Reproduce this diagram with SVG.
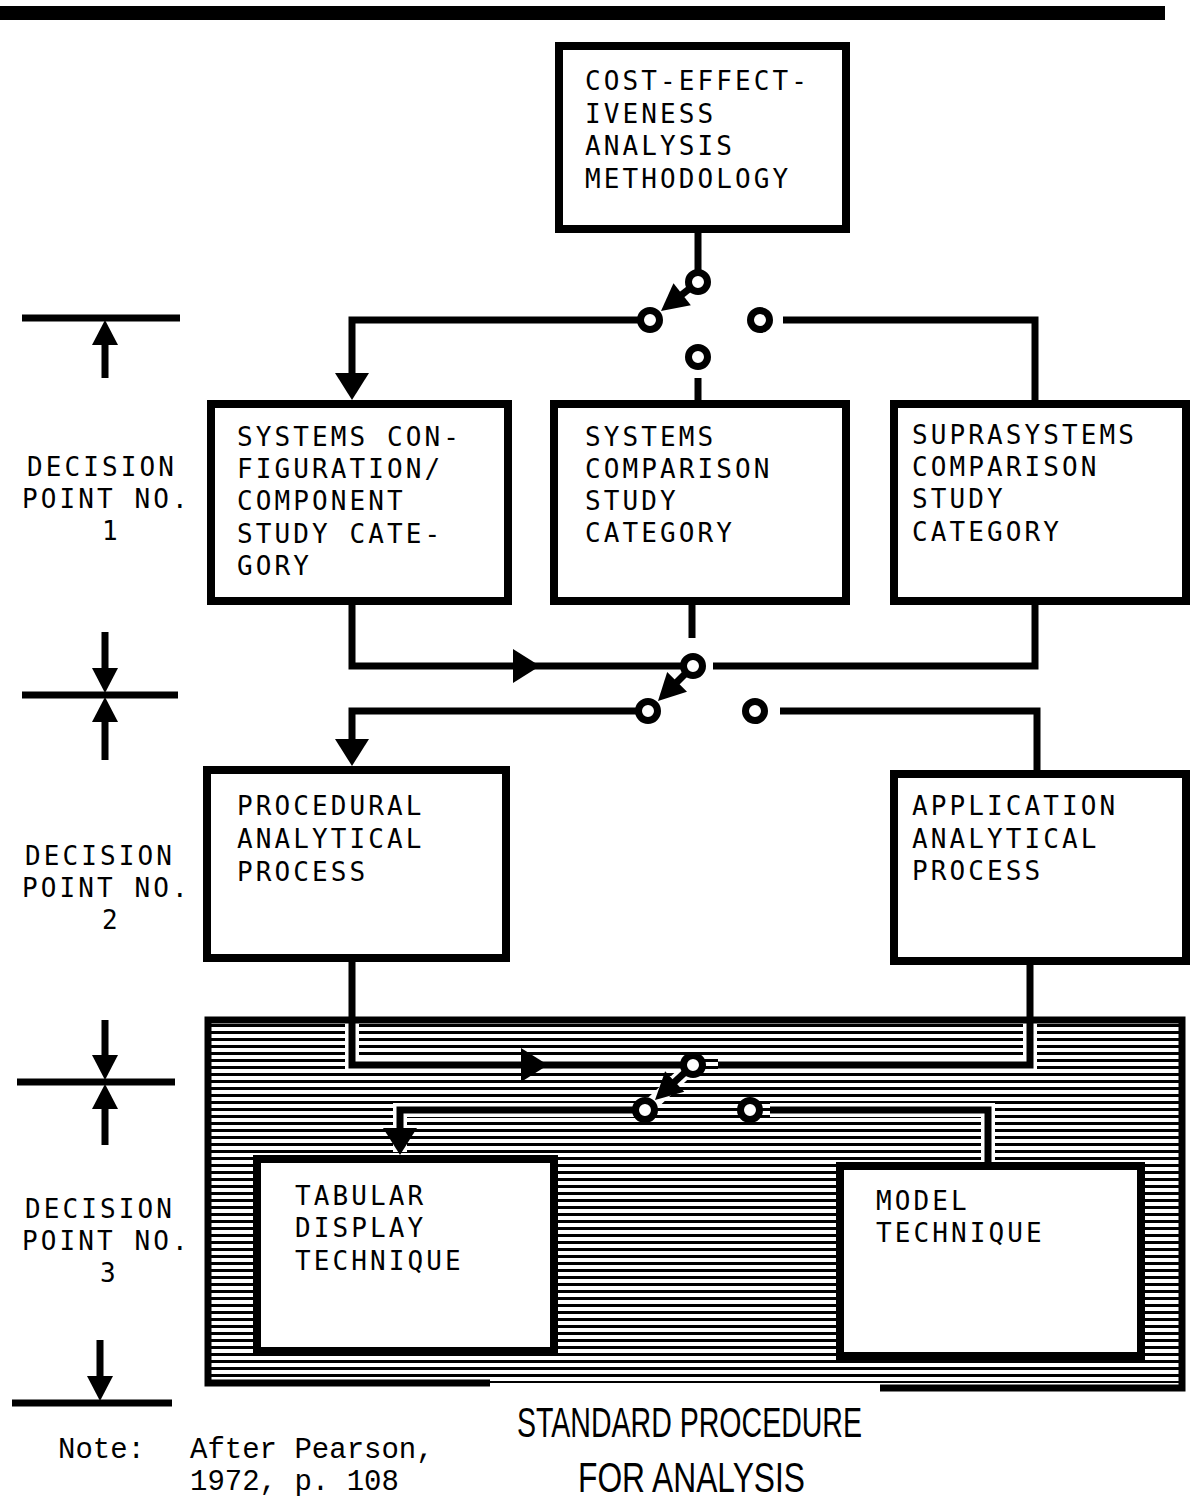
<svg xmlns="http://www.w3.org/2000/svg" xmlns:xlink="http://www.w3.org/1999/xlink" width="1190" height="1499" viewBox="0 0 1190 1499">
<style>
.box{fill:#fff;stroke:#000;stroke-width:8}
.ln{fill:none;stroke:#000;stroke-width:7;stroke-linejoin:miter;stroke-linecap:butt}
.halo{fill:none;stroke:#fff;stroke-width:14}
.sw{fill:#fff;stroke:#000;stroke-width:7}
.t{font-family:"DejaVu Sans Mono","Liberation Mono",monospace;font-size:26px;letter-spacing:3.1px;fill:#000}
.n{font-family:"Liberation Mono","Courier New",monospace;font-size:29px;fill:#000}
.cap{font-family:"Liberation Sans",Arial,sans-serif;font-size:42px;fill:#000}
</style>
<defs>
<path id="ah" d="M0,0 L-27,-17 L-27,17 Z" fill="#000"/>
<path id="ahs" d="M0,0 L-27,-14 L-27,14 Z" fill="#000"/>
<path id="ahm" d="M0,0 L-25,-13 L-25,13 Z" fill="#000"/>
<pattern id="hatch" patternUnits="userSpaceOnUse" width="20" height="7">
<rect x="0" y="0" width="20" height="7" fill="#fff"/>
<rect x="0" y="2" width="20" height="3" fill="#000"/>
</pattern>
</defs>
<rect x="0" y="0" width="1190" height="1499" fill="#fff"/>
<rect x="0" y="6" width="1165" height="14" fill="#000"/>

<!-- hatched panel -->
<g id="panel">
<rect x="205" y="1018" width="978" height="365" fill="url(#hatch)"/>
<path class="ln" d="M490,1383 L208,1383 L208,1020 L1182,1020 L1182,1388 L880,1388" stroke-width="8"/>
</g>

<!-- left decision markers -->
<g id="markers">
<path class="ln" d="M22,318 L180,318 M105,378 L105,338"/>
<use xlink:href="#ahm" transform="translate(105,320) rotate(-90)"/>
<path class="ln" d="M22,695 L178,695 M105,632 L105,675 M105,760 L105,715"/>
<use xlink:href="#ahm" transform="translate(105,693) rotate(90)"/>
<use xlink:href="#ahm" transform="translate(105,697) rotate(-90)"/>
<path class="ln" d="M17,1082 L175,1082 M105,1020 L105,1062 M105,1145 L105,1102"/>
<use xlink:href="#ahm" transform="translate(105,1080) rotate(90)"/>
<use xlink:href="#ahm" transform="translate(105,1084) rotate(-90)"/>
<path class="ln" d="M12,1403 L172,1403 M100,1340 L100,1382"/>
<use xlink:href="#ahm" transform="translate(100,1401) rotate(90)"/>
<text class="t" x="27" y="476">DECISION</text>
<text class="t" x="22" y="508">POINT NO.</text>
<text class="t" x="102" y="540">1</text>
<text class="t" x="25" y="865">DECISION</text>
<text class="t" x="22" y="897">POINT NO.</text>
<text class="t" x="102" y="929">2</text>
<text class="t" x="25" y="1218">DECISION</text>
<text class="t" x="22" y="1250">POINT NO.</text>
<text class="t" x="100" y="1282">3</text>
</g>

<!-- connectors -->
<g id="connectors">
<path class="ln" d="M698,233 L698,272"/>
<path class="ln" d="M698,282 L675,300"/>
<use xlink:href="#ahs" transform="translate(661,311) rotate(141.6)"/>
<path class="ln" d="M641,320 L352,320 L352,378"/>
<use xlink:href="#ah" transform="translate(352,400) rotate(90)"/>
<path class="ln" d="M783,320 L1035,320 L1035,400"/>
<path class="ln" d="M698,378 L698,400"/>

<path class="ln" d="M352,605 L352,666 L684,666"/>
<use xlink:href="#ah" transform="translate(540,666)"/>
<path class="ln" d="M692,605 L692,638"/>
<path class="ln" d="M1035,605 L1035,666 L713,666"/>
<path class="ln" d="M693,666 L671,688"/>
<use xlink:href="#ahs" transform="translate(658,701) rotate(135)"/>
<path class="ln" d="M639,711 L352,711 L352,744"/>
<use xlink:href="#ah" transform="translate(352,766) rotate(90)"/>
<path class="ln" d="M780,711 L1037,711 L1037,770"/>

<path class="halo" d="M352,1024 L352,1065 L684,1065 M1030,1024 L1030,1065 L718,1065 M693,1065 L645,1110 L400,1110 L400,1152 M770,1110 L988,1110 L988,1160"/>
<path class="ln" d="M352,962 L352,1065 L684,1065"/>
<use xlink:href="#ah" transform="translate(548,1065)"/>
<path class="ln" d="M1030,965 L1030,1065 L718,1065"/>
<path class="ln" d="M693,1065 L668,1088"/>
<use xlink:href="#ahs" transform="translate(655,1100) rotate(136.8)"/>
<path class="ln" d="M636,1110 L400,1110 L400,1133"/>
<use xlink:href="#ah" transform="translate(400,1155) rotate(90)"/>
<path class="ln" d="M770,1110 L988,1110 L988,1162"/>

<circle class="sw" cx="698" cy="282" r="9.5"/>
<circle class="sw" cx="650" cy="320" r="9.5"/>
<circle class="sw" cx="760" cy="320" r="9.5"/>
<circle class="sw" cx="698" cy="357" r="9.5"/>
<circle class="sw" cx="693" cy="666" r="9.5"/>
<circle class="sw" cx="648" cy="711" r="9.5"/>
<circle class="sw" cx="755" cy="711" r="9.5"/>
<circle class="sw" cx="693" cy="1065" r="9.5"/>
<circle class="sw" cx="645" cy="1110" r="9.5"/>
<circle class="sw" cx="750" cy="1110" r="9.5"/>
</g>

<g id="n1">
<rect class="box" x="559" y="46" width="287" height="183"/>
<text class="t" x="585" y="90">COST-EFFECT-</text>
<text class="t" x="585" y="123">IVENESS</text>
<text class="t" x="585" y="155">ANALYSIS</text>
<text class="t" x="585" y="188">METHODOLOGY</text>
</g>
<g id="n2">
<rect class="box" x="211" y="404" width="297" height="197"/>
<text class="t" x="237" y="446">SYSTEMS CON-</text>
<text class="t" x="237" y="478">FIGURATION/</text>
<text class="t" x="237" y="510">COMPONENT</text>
<text class="t" x="237" y="543">STUDY CATE-</text>
<text class="t" x="237" y="575">GORY</text>
</g>
<g id="n3">
<rect class="box" x="554" y="404" width="292" height="197"/>
<text class="t" x="585" y="446">SYSTEMS</text>
<text class="t" x="585" y="478">COMPARISON</text>
<text class="t" x="585" y="510">STUDY</text>
<text class="t" x="585" y="542">CATEGORY</text>
</g>
<g id="n4">
<rect class="box" x="894" y="404" width="292" height="197"/>
<text class="t" x="912" y="444">SUPRASYSTEMS</text>
<text class="t" x="912" y="476">COMPARISON</text>
<text class="t" x="912" y="508">STUDY</text>
<text class="t" x="912" y="541">CATEGORY</text>
</g>
<g id="n5">
<rect class="box" x="207" y="770" width="299" height="188"/>
<text class="t" x="237" y="815">PROCEDURAL</text>
<text class="t" x="237" y="848">ANALYTICAL</text>
<text class="t" x="237" y="881">PROCESS</text>
</g>
<g id="n6">
<rect class="box" x="894" y="774" width="292" height="187"/>
<text class="t" x="912" y="815">APPLICATION</text>
<text class="t" x="912" y="848">ANALYTICAL</text>
<text class="t" x="912" y="880">PROCESS</text>
</g>
<g id="n7">
<rect class="box" x="257" y="1159" width="297" height="192"/>
<text class="t" x="295" y="1205">TABULAR</text>
<text class="t" x="295" y="1237">DISPLAY</text>
<text class="t" x="295" y="1270">TECHNIQUE</text>
</g>
<g id="n8">
<rect class="box" x="840" y="1166" width="301" height="190"/>
<text class="t" x="876" y="1210">MODEL</text>
<text class="t" x="876" y="1242">TECHNIQUE</text>
</g>

<g id="captions">
<text class="cap" x="517" y="1437" textLength="345" lengthAdjust="spacingAndGlyphs">STANDARD PROCEDURE</text>
<text class="cap" x="578" y="1492" textLength="227" lengthAdjust="spacingAndGlyphs">FOR ANALYSIS</text>
<text class="n" x="58" y="1458">Note:</text>
<text class="n" x="190" y="1458">After Pearson,</text>
<text class="n" x="190" y="1490">1972, p. 108</text>
</g>
</svg>
